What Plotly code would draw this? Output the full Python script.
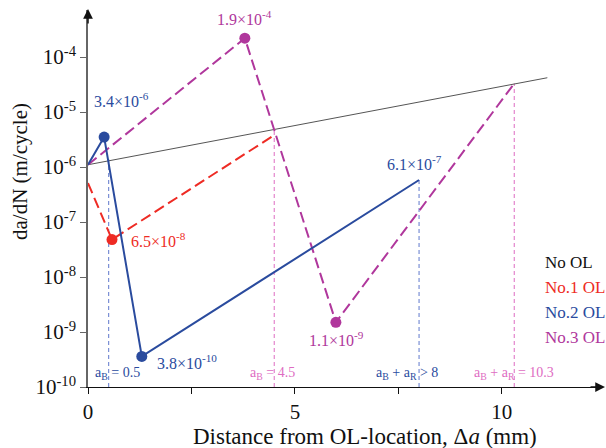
import plotly.graph_objects as go

# ---- data ----
x_nool = [0, 11.1]
y_nool = [1.1e-6, 4.2e-5]

x_ol1 = [0, 0.58, 4.5]
y_ol1 = [5.1e-7, 4.8e-8, 3.8e-6]

x_ol2 = [0, 0.39, 1.3, 8.0]
y_ol2 = [1.1e-6, 3.5e-6, 3.6e-10, 5.8e-7]

x_ol3 = [0, 3.79, 5.99, 10.3]
y_ol3 = [1.1e-6, 2.2e-4, 1.5e-9, 3.3e-5]

# marked points
mk1_x, mk1_y = [0.58], [4.8e-8]
mk2_x, mk2_y = [0.39, 1.3], [3.5e-6, 3.6e-10]
mk3_x, mk3_y = [3.79, 5.99], [2.2e-4, 1.5e-9]

# reference verticals (x, top value)
vl_x = [0.5, 4.5, 8.0, 10.3]
vl_top = [1.5e-6, 4.8e-6, 5.8e-7, 3.3e-5]
vl_series = ["ol2", "ol3", "ol2", "ol3"]

# value labels
val_text = ["1.9×10<sup>-4</sup>", "3.4×10<sup>-6</sup>", "6.1×10<sup>-7</sup>",
            "6.5×10<sup>-8</sup>", "3.8×10<sup>-10</sup>", "1.1×10<sup>-9</sup>"]
val_x = [3.79, 0.82, 7.9, 0.99, 1.62, 6.0]
val_logy = [-3.29, -4.78, -5.93, -7.33, -9.55, -9.13]
val_series = ["ol3", "ol2", "ol2", "ol1", "ol2", "ol3"]
val_anchor = ["center", "center", "center", "left", "left", "center"]

# region labels
reg_text = ["a<sub>B</sub> = 0.5", "a<sub>B</sub> = 4.5",
            "a<sub>B</sub> + a<sub>R</sub> > 8", "a<sub>B</sub> + a<sub>R</sub> = 10.3"]
reg_x = [0.72, 4.45, 7.72, 10.3]
reg_series = ["ol2", "ol3", "ol2", "ol3"]

# legend labels
leg_text = ["No OL", "No.1 OL", "No.2 OL", "No.3 OL"]
leg_series = ["nool", "ol1", "ol2", "ol3"]

# tick labels
y_tickvals = [1e-10, 1e-9, 1e-8, 1e-7, 1e-6, 1e-5, 1e-4]
y_ticktext = ["10<sup>-10</sup>", "10<sup>-9</sup>", "10<sup>-8</sup>", "10<sup>-7</sup>",
              "10<sup>-6</sup>", "10<sup>-5</sup>", "10<sup>-4</sup>"]
x_tickvals = [0, 2.5, 5, 7.5, 10]
x_ticktext = ["0", "", "5", "", "10"]

# ---- styles ----
col = {"nool": "#111111", "ol1": "#EE2B24", "ol2": "#2A4B9E", "ol3": "#B0379C"}
col_light = {"ol2": "#5F78CC", "ol3": "#DE6CC2"}
FONT = "Times New Roman"

fig = go.Figure()

# verticals
for x, top, s in zip(vl_x, vl_top, vl_series):
    fig.add_trace(go.Scatter(x=[x, x], y=[1e-10, top], mode="lines",
                             line=dict(color=col_light[s], width=1, dash="4px,3px"),
                             hoverinfo="skip"))

fig.add_trace(go.Scatter(x=x_nool, y=y_nool, mode="lines",
                         line=dict(color="#555555", width=1)))
fig.add_trace(go.Scatter(x=x_ol1, y=y_ol1, mode="lines",
                         line=dict(color=col["ol1"], width=2, dash="11px,5px")))
fig.add_trace(go.Scatter(x=x_ol3, y=y_ol3, mode="lines",
                         line=dict(color=col["ol3"], width=2, dash="11px,5px")))
fig.add_trace(go.Scatter(x=x_ol2, y=y_ol2, mode="lines",
                         line=dict(color=col["ol2"], width=2)))

for mx, my, s in [(mk1_x, mk1_y, "ol1"), (mk2_x, mk2_y, "ol2"), (mk3_x, mk3_y, "ol3")]:
    fig.add_trace(go.Scatter(x=mx, y=my, mode="markers",
                             marker=dict(color=col[s], size=11)))

L, R, T, B = 88, 9, 10, 61
plot_w = 606 - L - R
plot_h = 448 - T - B


def px(x):
    return (x - L) / plot_w


def py(y):
    return 1 - (y - T) / plot_h


ann = []
for t, x, ly, s, a in zip(val_text, val_x, val_logy, val_series, val_anchor):
    ann.append(dict(x=x, y=ly, xref="x", yref="y", text=t, showarrow=False,
                    xanchor=a, yanchor="middle",
                    font=dict(family=FONT, size=16, color=col[s])))
for t, x, s in zip(reg_text, reg_x, reg_series):
    ann.append(dict(x=x, y=-9.76, xref="x", yref="y", text=t, showarrow=False,
                    xanchor="center", yanchor="middle",
                    font=dict(family=FONT, size=14, color=col_light[s] if s == "ol3" else col[s])))
for i, (t, s) in enumerate(zip(leg_text, leg_series)):
    ann.append(dict(x=px(543), y=py(262 + 25.3 * i), xref="paper", yref="paper", text=t,
                    showarrow=False, xanchor="left", yanchor="middle",
                    font=dict(family=FONT, size=17, color=col[s])))

# axis titles as annotations
ann.append(dict(x=px(365), y=py(436), xref="paper", yref="paper",
                text="Distance from OL-location, Δ<i>a</i> (mm)", showarrow=False,
                xanchor="center", yanchor="middle", font=dict(family=FONT, size=23)))
ann.append(dict(x=px(20), y=py(172), xref="paper", yref="paper",
                text="da/dN (m/cycle)", textangle=-90, showarrow=False,
                xanchor="center", yanchor="middle", font=dict(family=FONT, size=21)))
# axis arrows
ann.append(dict(x=0, y=1 + 1 / plot_h, xref="paper", yref="paper", text="", showarrow=True,
                ax=0, ay=16, arrowhead=2, arrowsize=1.3, arrowwidth=1.5, arrowcolor="#111111"))
ann.append(dict(x=1 + 8 / plot_w, y=0, xref="paper", yref="paper", text="", showarrow=True,
                ax=-16, ay=0, arrowhead=2, arrowsize=1.3, arrowwidth=1.5, arrowcolor="#111111"))

fig.update_layout(
    annotations=ann,
    width=606, height=448,
    margin=dict(l=L, r=R, t=T, b=B),
    paper_bgcolor="white", plot_bgcolor="white",
    showlegend=False,
    font=dict(family=FONT, size=21, color="#111111"),
    xaxis=dict(range=[0, 12.3], tickvals=x_tickvals, ticktext=x_ticktext,
               showgrid=False, zeroline=False, showline=True, linecolor="#111111",
               linewidth=1.2, ticks="outside", ticklen=6, tickcolor="#111111",
               tickfont=dict(family=FONT, size=21)),
    yaxis=dict(type="log", range=[-10, -3.145], tickvals=y_tickvals, ticktext=y_ticktext,
               showgrid=False, zeroline=False, showline=True, linecolor="#666666",
               linewidth=1.5, ticks="outside", ticklen=6, tickcolor="#666666",
               tickfont=dict(family=FONT, size=21)),
)

fig.write_html("out.html", config={"displayModeBar": False},
               post_script="document.body.style.margin='0';")
